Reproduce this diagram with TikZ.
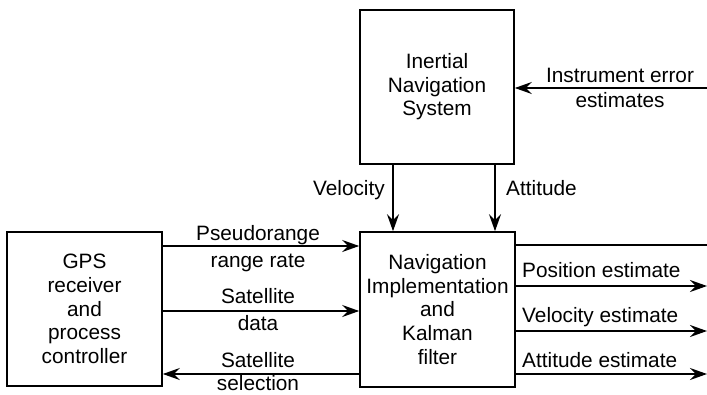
\documentclass[tikz,border=0pt]{standalone}
\usepackage{fontspec}
\setmainfont{Liberation Sans}
\usetikzlibrary{arrows.meta}
\tikzset{
  blk/.style={draw, line width=1.6pt, inner sep=0pt, align=center,
    font=\fontsize{20.8}{23.6}\selectfont},
  lbl/.style={inner sep=0pt, font=\fontsize{20.8}{23.6}\selectfont},
  arr/.style={line width=2pt, -{Stealth[length=17pt,width=12pt,inset=6pt]}},
  ln/.style={line width=2pt}
}
\begin{document}
\begin{tikzpicture}[x=1pt,y=1pt]
\useasboundingbox (0,0) rectangle (707,-394);
% blocks
\node[blk, minimum width=154pt, minimum height=154pt] (ins) at (437,-87)
  {Inertial\\Navigation\\System};
\node[blk, minimum width=155pt, minimum height=154pt] (gps) at (84.5,-309)
  {GPS\\receiver\\and\\process\\controller};
\node[blk, minimum width=155pt, minimum height=155pt] (nav) at (437.5,-309.5)
  {Navigation\\Implementation\\and\\Kalman\\filter};
% coordinates
\coordinate (ie) at (707,-88);
\coordinate (cv) at (393,0);
\coordinate (ca) at (495,0);
\coordinate (r1) at (0,-246);
\coordinate (r2) at (0,-311);
\coordinate (r3) at (0,-374);
\coordinate (o0) at (707,-245);
\coordinate (o1) at (707,-286);
\coordinate (o2) at (707,-331);
\coordinate (o3) at (707,-374);
% connectors
\draw[arr] (ie) -- (ins.east |- ie);
\draw[arr] (ins.south -| cv) -- (nav.north -| cv);
\draw[arr] (ins.south -| ca) -- (nav.north -| ca);
\draw[arr] (gps.east |- r1) -- (nav.west |- r1);
\draw[arr] (gps.east |- r2) -- (nav.west |- r2);
\draw[arr] (nav.west |- r3) -- (gps.east |- r3);
\draw[ln] (nav.east |- o0) -- (o0);
\draw[arr] (nav.east |- o1) -- (o1);
\draw[arr] (nav.east |- o2) -- (o2);
\draw[arr] (nav.east |- o3) -- (o3);
% labels
\node[lbl, anchor=base] (l1) at (620,-82) {Instrument error};
\node[lbl, anchor=base] (l2) at (620,-107) {estimates};
\node[lbl, anchor=base east] (l3) at (385,-195) {Velocity};
\node[lbl, anchor=base west] (l4) at (506,-195) {Attitude};
\node[lbl, anchor=base] (l5) at (258,-240) {Pseudorange};
\node[lbl, anchor=base] (l6) at (258,-267) {range rate};
\node[lbl, anchor=base] (l7) at (258,-303) {Satellite};
\node[lbl, anchor=base] (l8) at (258,-330) {data};
\node[lbl, anchor=base] (l9) at (258,-367) {Satellite};
\node[lbl, anchor=base] (l10) at (258,-390) {selection};
\node[lbl, anchor=base west] (l11) at (522,-277) {Position estimate};
\node[lbl, anchor=base west] (l12) at (522,-322) {Velocity estimate};
\node[lbl, anchor=base west] (l13) at (522,-367) {Attitude estimate};
\end{tikzpicture}
\end{document}
